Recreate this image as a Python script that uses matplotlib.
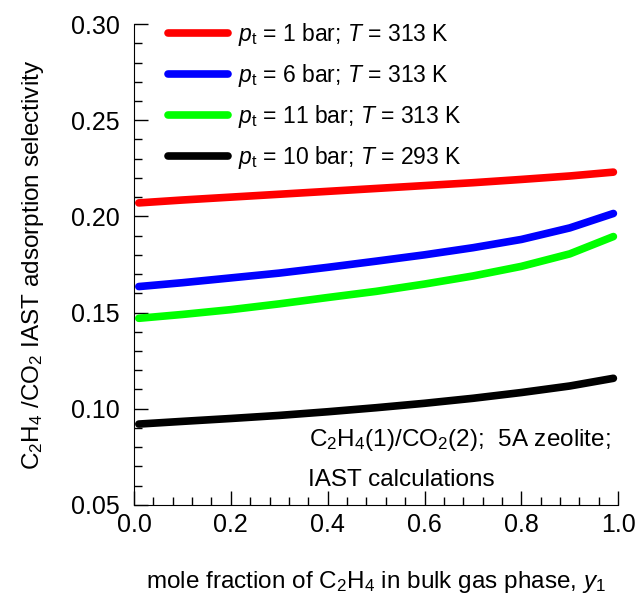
import matplotlib
matplotlib.use("Agg")
import matplotlib.pyplot as plt
from matplotlib.ticker import MultipleLocator

plt.rcParams['font.family'] = ['Liberation Sans', 'DejaVu Sans']
plt.rcParams['mathtext.fontset'] = 'custom'
plt.rcParams['mathtext.rm'] = 'Liberation Sans'
plt.rcParams['mathtext.it'] = 'Liberation Sans:italic'

# mole fraction of C2H4 in bulk gas
y1 = [0.01, 0.1, 0.2, 0.3, 0.4, 0.5, 0.6, 0.7, 0.8, 0.9, 0.99]

# selectivity curves
sel_1bar_313 = [0.207, 0.2085, 0.210, 0.2115, 0.213, 0.2145, 0.216, 0.2175, 0.2192, 0.221, 0.223]
sel_6bar_313 = [0.1635, 0.1655, 0.168, 0.1705, 0.1735, 0.1767, 0.180, 0.1837, 0.188, 0.194, 0.2015]
sel_11bar_313 = [0.147, 0.149, 0.1515, 0.1545, 0.1578, 0.161, 0.1648, 0.169, 0.174, 0.1805, 0.1895]
sel_10bar_293 = [0.092, 0.0934, 0.0949, 0.0965, 0.0984, 0.1005, 0.1028, 0.1054, 0.1084, 0.1118, 0.1158]

labels = [r'$p_{\rm t}$ = 1 bar; $T$ = 313 K',
          r'$p_{\rm t}$ = 6 bar; $T$ = 313 K',
          r'$p_{\rm t}$ = 11 bar; $T$ = 313 K',
          r'$p_{\rm t}$ = 10 bar; $T$ = 293 K']
colors = ['#ff0000', '#0000ff', '#00ff00', '#000000']

fig = plt.figure(figsize=(6.38, 6.01), dpi=100)
ax = fig.add_axes([0.21, 0.16, 0.759, 0.80])

for ys, lab, c in zip([sel_1bar_313, sel_6bar_313, sel_11bar_313, sel_10bar_293], labels, colors):
    ax.plot(y1, ys, color=c, lw=5.5, solid_capstyle='round', label=lab)

ax.set_xlim(0, 1)
ax.set_ylim(0.05, 0.30)
ax.xaxis.set_major_locator(MultipleLocator(0.2))
ax.xaxis.set_minor_locator(MultipleLocator(0.04))
ax.yaxis.set_major_locator(MultipleLocator(0.05))
ax.yaxis.set_minor_locator(MultipleLocator(0.01))
ax.xaxis.set_major_formatter(plt.FormatStrFormatter('%.1f'))
ax.yaxis.set_major_formatter(plt.FormatStrFormatter('%.2f'))
ax.spines['top'].set_visible(False)
ax.spines['right'].set_visible(False)
ax.tick_params(which='both', direction='in', labelsize=18, width=1)
ax.tick_params(axis='x', which='major', length=10, pad=6)
ax.tick_params(axis='y', which='major', length=10, pad=10)
ax.tick_params(which='minor', length=6)

ax.set_xlabel(r'mole fraction of C$_2$H$_4$ in bulk gas phase, $y_1$', fontsize=17.5, labelpad=23)
ax.set_ylabel(r'C$_2$H$_4$ /CO$_2$ IAST adsorption selectivity', fontsize=17.5, labelpad=18)

ax.legend(loc='upper left', bbox_to_anchor=(0.028, 1.05), frameon=False, fontsize=16.5,
          handlelength=2.6, handletextpad=0.45, labelspacing=0.62)

ax.text(0.985, 0.135, r'C$_2$H$_4$(1)/CO$_2$(2);  5A zeolite;', transform=ax.transAxes,
        ha='right', va='center', fontsize=17.5)
ax.text(0.36, 0.052, 'IAST calculations', transform=ax.transAxes,
        ha='left', va='center', fontsize=17.5)

fig.savefig('out.png', dpi=100)
